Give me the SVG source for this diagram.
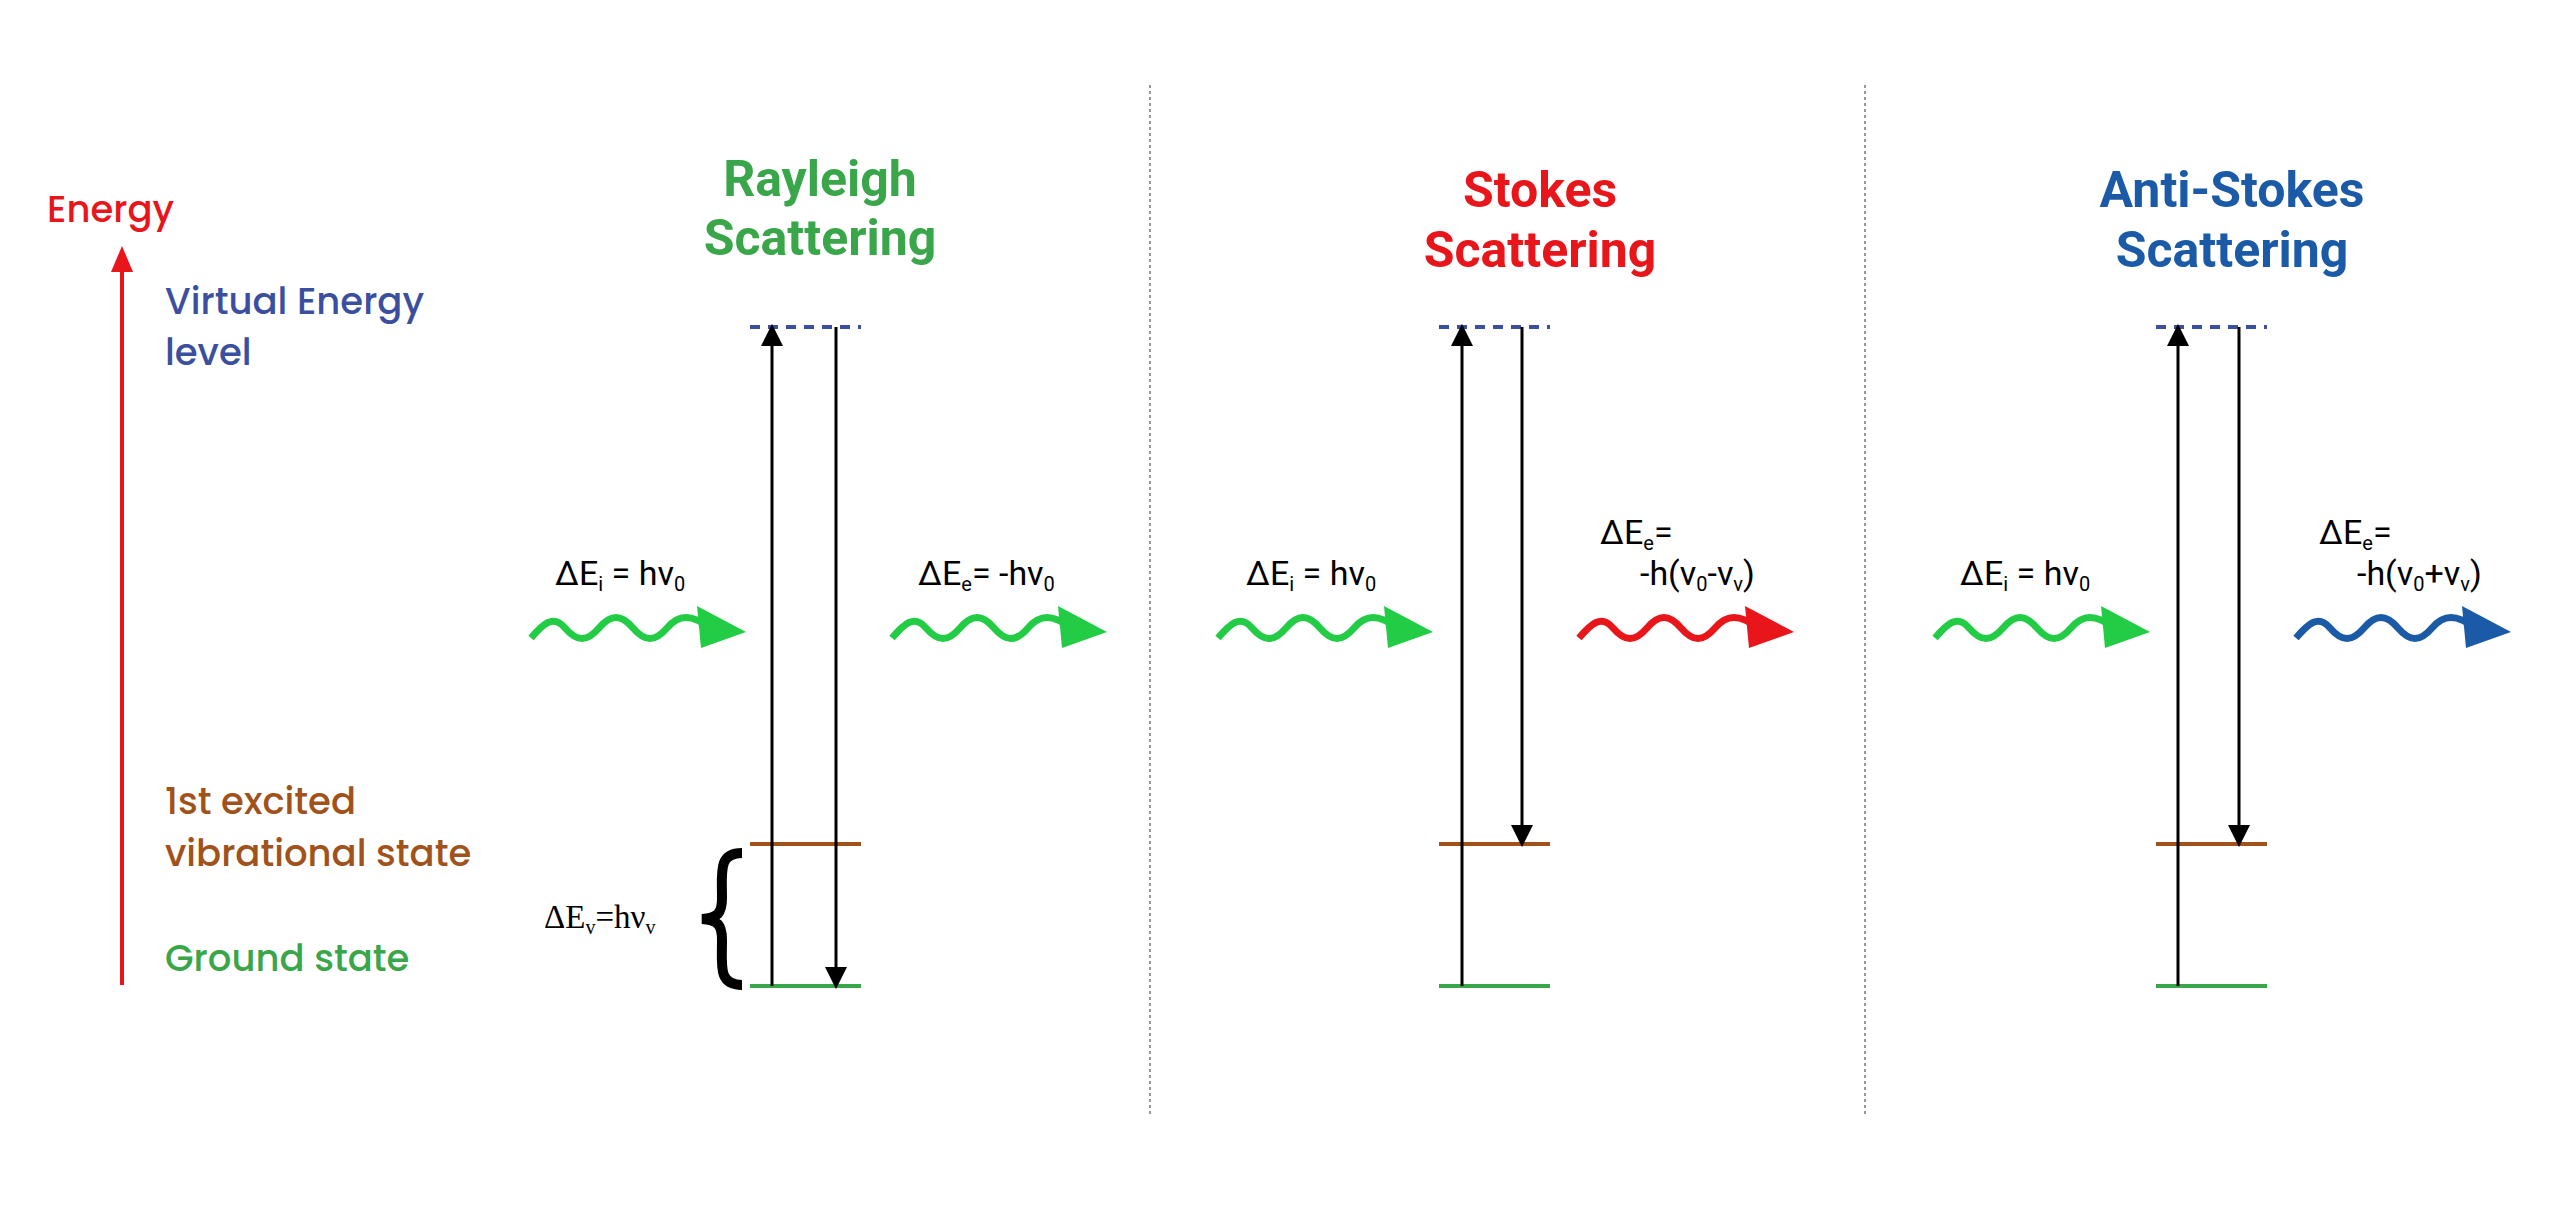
<svg xmlns="http://www.w3.org/2000/svg" xmlns:xlink="http://www.w3.org/1999/xlink" width="2560" height="1208" viewBox="0 0 2560 1208">
<style>
.t{font-family:Poppins,Inter,"Liberation Sans",sans-serif;font-size:37px;font-weight:500}
.ti{font-family:Roboto,"Liberation Sans",sans-serif;font-weight:bold;font-size:50px;text-anchor:middle}
.lb{font-family:Roboto,"Liberation Sans",sans-serif;font-size:34px;fill:#000}
.v{stroke:#3a4fa0;stroke-width:4;stroke-dasharray:10,8}
.ex{stroke:#a0521a;stroke-width:4}
.gr{stroke:#3aa64a;stroke-width:4}
.ar{stroke:#000;stroke-width:3;marker-end:url(#ah)}
.dv{stroke:#777;stroke-width:1.5;stroke-dasharray:3,3}
</style>
<defs>
<marker id="ah" viewBox="0 0 20 26" refX="20" refY="13" markerWidth="26" markerHeight="22" markerUnits="userSpaceOnUse" orient="auto"><path d="M0,0L26,13L0,26z" fill="#000"/></marker>
<g id="wave"><path d="M0,24 C12,10 22,0 34,14 S56,28 68,14 S90,0 102,14 S124,28 136,14 S160,0 180,14" fill="none" stroke="currentColor" stroke-width="7"/><polygon points="166,-8 215,18 170,34" fill="currentColor"/></g>
</defs>
<rect width="2560" height="1208" fill="#fff"/>
<g id="dividers"><line class="dv" x1="1150" y1="85" x2="1150" y2="1114"/><line class="dv" x1="1865" y1="85" x2="1865" y2="1114"/></g>
<g id="axis">
<line x1="122" y1="985" x2="122" y2="270" stroke="#e8151b" stroke-width="4"/>
<polygon points="122,246 111,272 133,272" fill="#e8151b"/>
<text class="t" x="47" y="222" fill="#e8151b" font-size="46">Energy</text>
<text class="t" x="165" y="314" fill="#3a4fa0">Virtual Energy</text>
<text class="t" x="165" y="365" fill="#3a4fa0">level</text>
<text class="t" x="165" y="814" fill="#a0521a">1st excited</text>
<text class="t" x="165" y="866" fill="#a0521a">vibrational state</text>
<text class="t" x="165" y="971" fill="#3aa64a">Ground state</text>
</g>
<g id="rayleigh">
<text class="ti" x="820" y="196" fill="#3aa64a">Rayleigh</text>
<text class="ti" x="820" y="255" fill="#3aa64a">Scattering</text>
<line class="v" x1="750" y1="327" x2="861" y2="327"/>
<line class="ex" x1="750" y1="844" x2="861" y2="844"/>
<line class="gr" x1="750" y1="986" x2="861" y2="986"/>
<text x="544" y="928" font-family="'Liberation Serif',serif" font-size="33">ΔE<tspan font-size="20" dy="6">v</tspan><tspan dy="-6">=hν</tspan><tspan font-size="20" dy="6">v</tspan></text>
<path d="M742,853 C718,853 722,872 722,898 C722,913 718,918 702,919 C718,920 722,925 722,940 C722,966 718,985 742,985" fill="none" stroke="#000" stroke-width="10"/>
<text class="lb" x="555" y="585">ΔE<tspan font-size="20" dy="6">i</tspan><tspan dy="-6"> = hv</tspan><tspan font-size="20" dy="6">0</tspan></text>
<text class="lb" x="918" y="585">ΔE<tspan font-size="20" dy="6">e</tspan><tspan dy="-6">= -hv</tspan><tspan font-size="20" dy="6">0</tspan></text>
</g>
<g id="stokes">
<text class="ti" x="1540" y="207" fill="#e8151b">Stokes</text>
<text class="ti" x="1540" y="267" fill="#e8151b">Scattering</text>
<line class="v" x1="1439" y1="327" x2="1550" y2="327"/>
<line class="ex" x1="1439" y1="844" x2="1550" y2="844"/>
<line class="gr" x1="1439" y1="986" x2="1550" y2="986"/>
<text class="lb" x="1246" y="585">ΔE<tspan font-size="20" dy="6">i</tspan><tspan dy="-6"> = hv</tspan><tspan font-size="20" dy="6">0</tspan></text>
<text class="lb" x="1600" y="544">ΔE<tspan font-size="20" dy="6">e</tspan><tspan dy="-6">=</tspan></text>
<text class="lb" x="1640" y="585">-h(v<tspan font-size="20" dy="6">0</tspan><tspan dy="-6">-v</tspan><tspan font-size="20" dy="6">v</tspan><tspan dy="-6">)</tspan></text>
</g>
<g id="antistokes">
<text class="ti" x="2232" y="207" fill="#1a5aa6">Anti-Stokes</text>
<text class="ti" x="2232" y="267" fill="#1a5aa6">Scattering</text>
<line class="v" x1="2156" y1="327" x2="2267" y2="327"/>
<line class="ex" x1="2156" y1="844" x2="2267" y2="844"/>
<line class="gr" x1="2156" y1="986" x2="2267" y2="986"/>
<text class="lb" x="1960" y="585">ΔE<tspan font-size="20" dy="6">i</tspan><tspan dy="-6"> = hv</tspan><tspan font-size="20" dy="6">0</tspan></text>
<text class="lb" x="2319" y="544">ΔE<tspan font-size="20" dy="6">e</tspan><tspan dy="-6">=</tspan></text>
<text class="lb" x="2357" y="585">-h(v<tspan font-size="20" dy="6">0</tspan><tspan dy="-6">+v</tspan><tspan font-size="20" dy="6">v</tspan><tspan dy="-6">)</tspan></text>
</g>
<g id="connectors">
<line class="ar" x1="772" y1="986" x2="772" y2="329"/>
<line class="ar" x1="836" y1="327" x2="836" y2="984"/>
<line class="ar" x1="1462" y1="986" x2="1462" y2="329"/>
<line class="ar" x1="1522" y1="327" x2="1522" y2="842"/>
<line class="ar" x1="2178" y1="986" x2="2178" y2="329"/>
<line class="ar" x1="2239" y1="327" x2="2239" y2="842"/>
<use xlink:href="#wave" x="531" y="614" color="#22cc44"/>
<use xlink:href="#wave" x="892" y="614" color="#22cc44"/>
<use xlink:href="#wave" x="1218" y="614" color="#22cc44"/>
<use xlink:href="#wave" x="1579" y="614" color="#e8151b"/>
<use xlink:href="#wave" x="1935" y="614" color="#22cc44"/>
<use xlink:href="#wave" x="2296" y="614" color="#1a5aa6"/>
</g>
</svg>
